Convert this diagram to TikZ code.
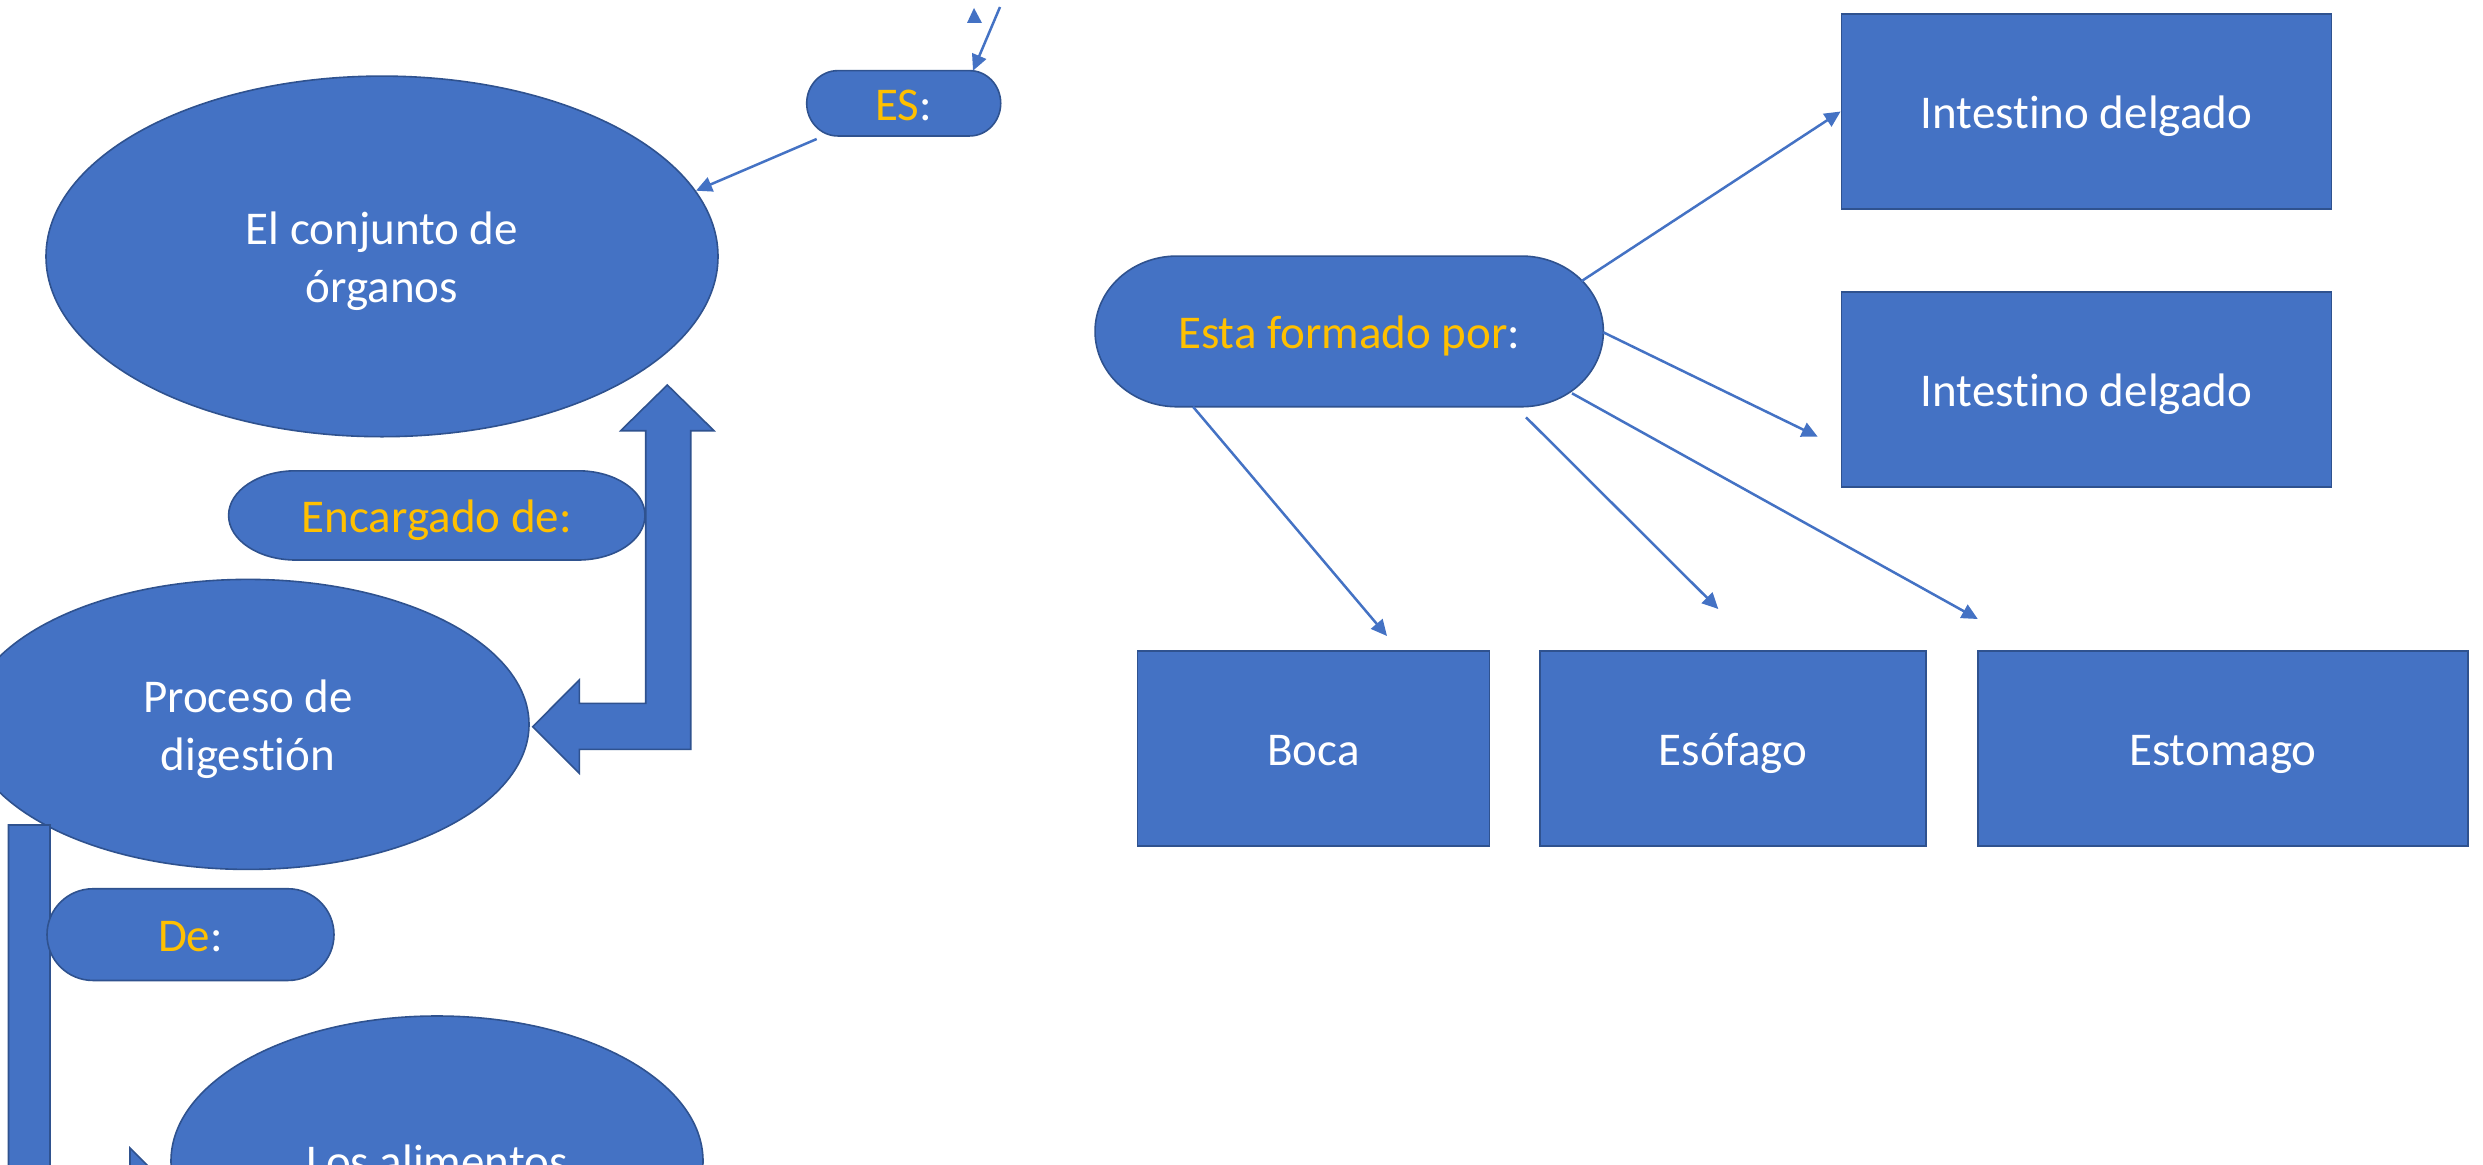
\documentclass[tikz,border=0pt]{standalone}
\usepackage{fontspec}
\setmainfont{Carlito}[Ligatures=NoCommon]
\usetikzlibrary{shapes.geometric,arrows.meta}
\definecolor{fillblue}{HTML}{4472C4}
\definecolor{edgeblue}{HTML}{2F528F}
\definecolor{lblorange}{HTML}{FFC000}
\newcommand\termshape[5]{% cx, cy, w, h, rx
  \draw[shapebox] ({#1-#3/2+#5},{#2+#4/2}) -- ({#1+#3/2-#5},{#2+#4/2})
    arc[start angle=90,end angle=-90,x radius={#5},y radius={#4/2}]
    -- ({#1-#3/2+#5},{#2-#4/2})
    arc[start angle=270,end angle=90,x radius={#5},y radius={#4/2}] -- cycle;}
\newcommand\firstlinestrut{\rule{0pt}{42pt}}
\begin{document}
\begin{tikzpicture}[x=1pt,y=1pt,
  shapebox/.style={draw=edgeblue, fill=fillblue, line width=1.6pt},
  txt/.style={text=white, font=\fontsize{47}{57.5}\selectfont, align=center, inner sep=0pt},
  oneline/.style={text height=45pt, text depth=11.4pt},
  ell/.style={shapebox, ellipse, txt},
  rectbox/.style={shapebox, rectangle, txt, oneline, minimum height=195pt},
  conn/.style={draw=fillblue, line width=2.5pt, -{Triangle[length=16pt,width=15pt]}},
  blockarrow/.style={shapebox}
]
\useasboundingbox (0,-1164) rectangle (2483,0);
\fill[white] (0,-1164) rectangle (2483,0);
\clip (0,-1164) rectangle (2483,0);

% ---- left column ----
\node[ell, minimum width=672pt, minimum height=360.6pt] (e1) at (382,-256.4) {\firstlinestrut El conjunto de\\órganos};

\termshape{903.7}{-103.3}{194}{65.3}{31}
\node[txt, oneline, minimum width=194pt] (es) at (903.7,-103.3) {\textcolor{lblorange}{ES}:};

\termshape{436.8}{-515.4}{416.4}{89.2}{67}
\node[txt, oneline, minimum width=416.4pt] (enc) at (436.8,-515.4) {\textcolor{lblorange}{Encargado de:}};

\node[ell, minimum width=562pt, minimum height=290pt] (proc) at (248,-724.4) {\firstlinestrut Proceso de\\digestión};

% bent block arrow from Proceso to conjunto
\draw[blockarrow] (667.3,-385) -- (714,-430.7) -- (690.7,-430.7) -- (690.7,-749.3)
  -- (579.3,-749.3) -- (579.3,-773.3) -- (532.7,-726.7) -- (579.3,-680)
  -- (579.3,-703.3) -- (645.7,-703.3) -- (645.7,-430.7) -- (620.7,-430.7) -- cycle;

% bent block arrow down to Los alimentos
\draw[blockarrow] (8.5,-825) -- (50,-825) -- (50,-1170) -- (130,-1170) -- (130,-1148)
  -- (173,-1191) -- (130,-1234) -- (130,-1212) -- (8.5,-1212) -- cycle;

\termshape{190.5}{-934.6}{287}{91.7}{46}
\node[txt, oneline, minimum width=287pt] (de) at (190.5,-934.6) {\textcolor{lblorange}{De}:};

\node[ell, oneline, minimum width=532pt, minimum height=290pt] (alim) at (437,-1161) {Los alimentos};

% connectors near ES
\coordinate (s6) at (816.7,-139);
\coordinate (t6) at (696,-190.7);
\draw[conn] (s6) -- (t6);
\coordinate (s7) at (1000,-7);
\coordinate (t7) at (973,-70.7);
\draw[conn] (s7) -- (t7);
\fill[fillblue] (974,-8) -- (967,-23) -- (982,-23) -- cycle;

% ---- right part ----
\termshape{1349.2}{-331.4}{508.3}{150.7}{82}
\node[txt, oneline, minimum width=508.3pt] (ef) at (1349.2,-331.4) {\textcolor{lblorange}{Esta formado por}:};

\node[rectbox, minimum width=490.2pt] (int1) at (2086.5,-111.5) {Intestino delgado};
\node[rectbox, minimum width=490.2pt] (int2) at (2086.5,-389.5) {Intestino delgado};
\node[rectbox, minimum width=352.2pt] (boca) at (1313.5,-748.2) {Boca};
\node[rectbox, minimum width=386pt] (esof) at (1733,-748.2) {Esófago};
\node[rectbox, minimum width=489.8pt] (estom) at (2222.9,-748.2) {Estomago};

\coordinate (s1) at (1581.7,-281);
\draw[conn] (s1) -- (int1.west);
\coordinate (s2) at (1603.3,-332.3);
\coordinate (t2) at (1817.7,-436.7);
\draw[conn] (s2) -- (t2);
\coordinate (s3) at (1572,-393.3);
\coordinate (t3) at (1977.8,-619);
\draw[conn] (s3) -- (t3);
\coordinate (s4) at (1526,-417.3);
\coordinate (t4) at (1718.3,-609);
\draw[conn] (s4) -- (t4);
\coordinate (s5) at (1193,-406.7);
\coordinate (t5) at (1387,-636);
\draw[conn] (s5) -- (t5);
\end{tikzpicture}
\end{document}
